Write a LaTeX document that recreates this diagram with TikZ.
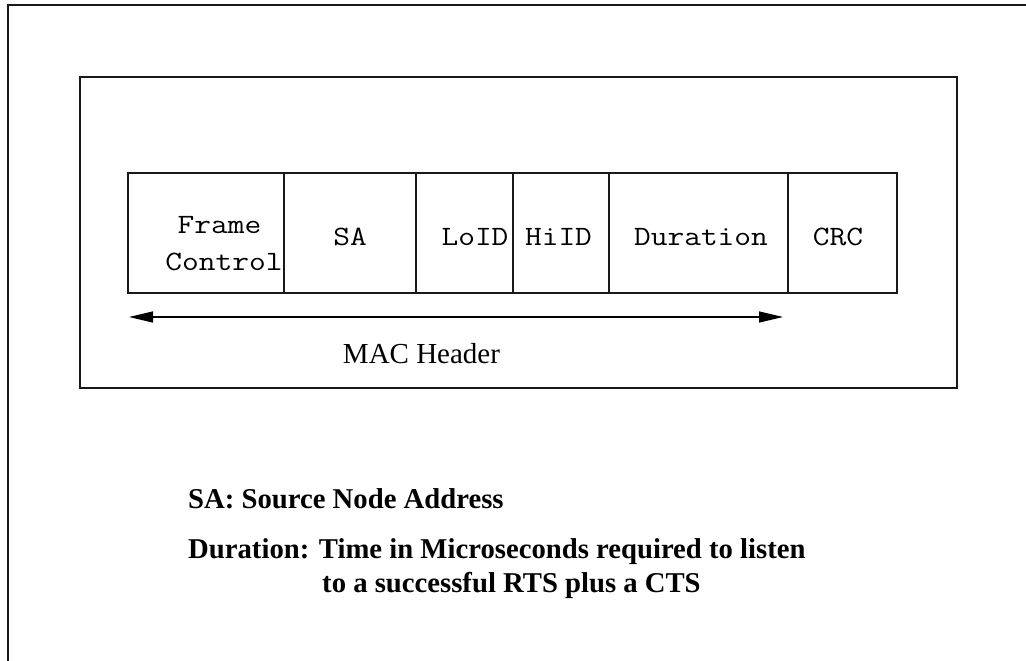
\documentclass[tikz,border=0pt]{standalone}
\usepackage{fontspec}
\setmainfont{Liberation Serif}
\usetikzlibrary{arrows.meta}

\begin{document}
\begin{tikzpicture}[x=1pt,y=-1pt,
  frameline/.style={line width=2pt,black!90},
  panel/.style={draw,line width=1.8pt,black!90,rectangle,inner sep=0pt,outer sep=0pt,anchor=north west},
  field/.style={draw,line width=1.4pt,black!90,rectangle,inner sep=0pt,outer sep=0pt,anchor=north west,minimum height=120pt},
  celltext/.style={inner sep=0pt,anchor=base,xscale=1.16,transform shape,font=\ttfamily\fontsize{28}{34}\selectfont},
  serif/.style={inner sep=0pt,anchor=base,font=\fontsize{29}{35}\selectfont},
  note/.style={inner sep=0pt,anchor=base west,font=\bfseries\fontsize{28.7}{34}\selectfont},
  span/.style={line width=1.4pt,{Triangle[length=24pt,width=11pt]}-{Triangle[length=24pt,width=11pt]}}
]
\useasboundingbox (0,0) rectangle (1026,661);
\fill[white] (0,0) rectangle (1026,661);

% outer page frame (open to the right and bottom)
\draw[frameline] (8,661) -- (8,5) -- (1026,5);

% enclosing panel
\node[panel,minimum width=877pt,minimum height=311pt] (panel) at (80,77) {};

% header fields
\node[field,minimum width=156pt] (fc)  at (128,173) {};
\node[field,minimum width=132pt] (sa)  at (284,173) {};
\node[field,minimum width=97pt]  (lo)  at (416,173) {};
\node[field,minimum width=96pt]  (hi)  at (513,173) {};
\node[field,minimum width=179pt] (du)  at (609,173) {};
\node[field,minimum width=109pt] (crc) at (788,173) {};

% field names
\node[celltext] (fcA) at (219.5,233) {Frame};
\node[celltext] (fcB) at (224,270) {Control};
\node[celltext] (saT) at (350,245) {SA};
\node[celltext] (loT) at (475,245) {LoID};
\node[celltext] (hiT) at (558.5,245) {HiID};
\node[celltext] (duT) at (701,245) {Duration};
\node[celltext] (crcT) at (838,245) {CRC};

% extent of the MAC header
\coordinate (hl) at (129,317);
\coordinate (hr) at (783,317);
\draw[span] (hl) -- (hr);
\node[serif] (mac) at (421.5,363) {MAC Header};

% legend
\node[note] (n1) at (188,508) {SA: Source Node Address};
\node[note] (n2) at (188,558) {Duration: Time in Microseconds required to listen};
\node[note] (n3) at (322,592) {to a successful RTS plus a CTS};
\end{tikzpicture}
\end{document}
